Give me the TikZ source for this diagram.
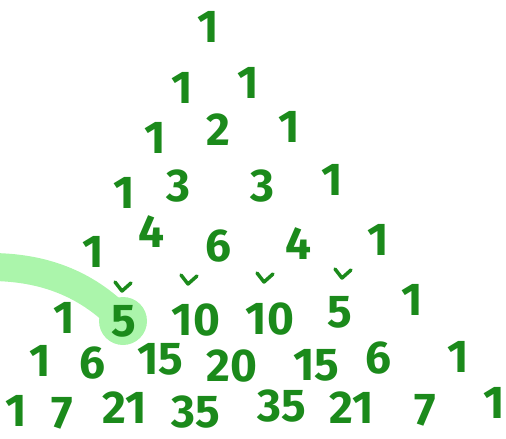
\documentclass[tikz,border=0pt]{standalone}
\usepackage{fontspec}
\setmainfont{Fira Sans}
\usepackage{xcolor}
\usepackage{tikz}
\usetikzlibrary{arrows.meta,positioning,calc}

\definecolor{pengreen}{HTML}{1B8A1B}
\definecolor{hlgreen}{HTML}{ABF5AB}

\begin{document}
\begin{tikzpicture}[
  x=1pt, y=1pt,
  num/.style={text=pengreen, inner sep=0pt, font=\fontsize{46}{46}\selectfont\bfseries},
  tick/.style={draw=pengreen, line width=3.5pt, line cap=round, line join=round},
  hl/.style={draw=hlgreen, line width=28pt, line cap=round}
]
\useasboundingbox (0,0) rectangle (506,-439);
% the highlighted entry sits under the numbers
\coordinate (hlc) at (123,-321);
\draw[hl] (-10,-267) .. controls (55,-267) and (95,-292) .. (hlc);
\fill[hlgreen] (hlc) circle (24);
% rows of the triangle
\foreach \n/\x/\y/\t in {
  r0c0/208/27/1,
  r1c0/182/88/1, r1c1/248/83/1,
  r2c0/155/138/1, r2c1/218/130/2, r2c2/289/127/1,
  r3c0/124/193/1, r3c1/178/186/3, r3c2/262/186/3, r3c3/332/180/1,
  r4c0/93/252/1, r4c1/151/232/4, r4c2/218/246/6, r4c3/298/244/4, r4c4/378/240/1,
  r5c0/64/318/1, r5c1/124/321/5, r5c2/196/320/10, r5c3/270/319/10, r5c4/340/312/5, r5c5/412/300/1,
  r6c0/40/361/1, r6c1/92/363/6, r6c2/160/359/15, r6c3/232/366/20, r6c4/316/365/15, r6c5/378/358/6, r6c6/458/357/1,
  r7c0/16/411/1, r7c1/62/413/7, r7c2/125/408/21, r7c3/196/412/35, r7c4/282/406/35, r7c5/352/408/21, r7c6/425/410/7, r7c7/494/403/1}
  \node[num] (\n) at (\x,-\y) {\t};
% ticks above row five
\foreach \x/\y in {122/291, 188/284, 264/282, 342/278}
  \draw[tick] (\x-7,-\y+9) -- (\x,-\y) -- (\x+9,-\y+8);
\end{tikzpicture}
\end{document}
